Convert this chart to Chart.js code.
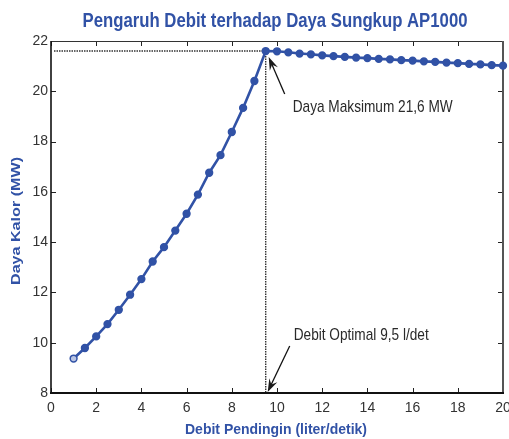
<!DOCTYPE html>
<html>
<head>
<meta charset="utf-8">
<script src="https://cdn.jsdelivr.net/npm/chart.js@4/dist/chart.umd.min.js"></script>
<style>
  html, body { margin: 0; padding: 0; background: #fff; }
  #wrap { width: 509px; height: 439px; }
</style>
</head>
<body>
<div id="wrap"><canvas id="daya-chart" width="509" height="439"></canvas></div>
<script>
// --- Data ---
const debit = [1, 1.5, 2, 2.5, 3, 3.5, 4, 4.5, 5, 5.5, 6, 6.5, 7, 7.5, 8, 8.5, 9, 9.5,
               10, 10.5, 11, 11.5, 12, 12.5, 13, 13.5, 14, 14.5, 15, 15.5, 16, 16.5, 17, 17.5, 18, 18.5, 19, 19.5, 20];
const daya = [9.37, 9.79, 10.25, 10.74, 11.31, 11.91, 12.53, 13.23, 13.80, 14.46, 15.13, 15.89, 16.76, 17.46, 18.38, 19.34, 20.41, 21.60,
              21.59, 21.55, 21.50, 21.47, 21.43, 21.40, 21.37, 21.34, 21.32, 21.29, 21.27, 21.24, 21.22, 21.19, 21.17, 21.14, 21.12, 21.09, 21.07, 21.04, 21.02];
const xTicks = [0, 2, 4, 6, 8, 10, 12, 14, 16, 18, 20];
const yTicks = [8, 10, 12, 14, 16, 18, 20, 22];

const debitOptimal = 9.5;
const dayaMaksimum = 21.6;

const titleText = 'Pengaruh Debit terhadap Daya Sungkup AP1000';
const xTitle = 'Debit Pendingin (liter/detik)';
const yTitle = 'Daya Kalor (MW)';
const noteDaya = 'Daya Maksimum 21,6 MW';
const noteDebit = 'Debit Optimal 9,5 l/det';

const BLUE = '#3152a6';
const NARROW = '"Liberation Sans Narrow", "Liberation Sans", Arial, sans-serif';
const SANS = '"Liberation Sans", Arial, sans-serif';

// draw text squeezed/stretched to a given width (figure was scaled unevenly)
function fitText(ctx, text, x, y, font, width, align) {
    ctx.save();
    ctx.font = font;
    const w = ctx.measureText(text).width;
    const k = width / w;
    ctx.translate(x, y);
    ctx.scale(k, 1);
    ctx.textAlign = align || 'left';
    ctx.fillText(text, 0, 0);
    ctx.restore();
}

function arrow(ctx, x1, y1, x2, y2) {
    const ang = Math.atan2(y2 - y1, x2 - x1);
    const len = 13, half = 4.4;
    ctx.beginPath();
    ctx.moveTo(x1, y1);
    ctx.lineTo(x2 - Math.cos(ang) * 6, y2 - Math.sin(ang) * 6);
    ctx.stroke();
    ctx.beginPath();
    ctx.moveTo(x2, y2);
    ctx.lineTo(x2 - len * Math.cos(ang) + half * Math.sin(ang), y2 - len * Math.sin(ang) - half * Math.cos(ang));
    ctx.lineTo(x2 - len * 0.65 * Math.cos(ang), y2 - len * 0.65 * Math.sin(ang));
    ctx.lineTo(x2 - len * Math.cos(ang) - half * Math.sin(ang), y2 - len * Math.sin(ang) + half * Math.cos(ang));
    ctx.closePath();
    ctx.fill();
}

// frame, inward ticks, guide lines
const framePlugin = {
    id: 'frame',
    beforeDatasetsDraw(chart) {
        const { ctx, chartArea: a, scales: { x, y } } = chart;
        const px = x.getPixelForValue(debitOptimal);
        const py = y.getPixelForValue(dayaMaksimum);
        ctx.save();
        // dotted guide lines
        ctx.strokeStyle = '#333';
        ctx.lineWidth = 1.4;
        ctx.setLineDash([1.5, 1]);
        ctx.beginPath();
        ctx.moveTo(a.left + 3, py);
        ctx.lineTo(px, py);
        ctx.moveTo(px, py);
        ctx.lineTo(px, a.bottom);
        ctx.stroke();
        ctx.setLineDash([]);

        // inward tick marks
        ctx.strokeStyle = '#222';
        ctx.lineWidth = 1;
        ctx.beginPath();
        xTicks.forEach(v => {
            const p = Math.round(x.getPixelForValue(v)) + 0.5;
            ctx.moveTo(p, a.bottom); ctx.lineTo(p, a.bottom - 5);
            ctx.moveTo(p, a.top); ctx.lineTo(p, a.top + 5);
        });
        yTicks.forEach(v => {
            const p = Math.round(y.getPixelForValue(v)) + 0.5;
            ctx.moveTo(a.left, p); ctx.lineTo(a.left + 5, p);
            ctx.moveTo(a.right, p); ctx.lineTo(a.right - 5, p);
        });
        ctx.stroke();

        // box
        ctx.lineWidth = 1;
        ctx.strokeStyle = '#333';
        ctx.beginPath();
        ctx.moveTo(a.left, a.top + 0.5); ctx.lineTo(a.right, a.top + 0.5);
        ctx.stroke();
        ctx.lineWidth = 2;
        ctx.strokeStyle = '#555';
        ctx.beginPath();
        ctx.moveTo(a.right, a.top); ctx.lineTo(a.right, a.bottom);
        ctx.stroke();
        ctx.lineWidth = 1.6;
        ctx.strokeStyle = '#111';
        ctx.beginPath();
        ctx.moveTo(a.left, a.top); ctx.lineTo(a.left, a.bottom);
        ctx.stroke();
        ctx.lineWidth = 2.2;
        ctx.beginPath();
        ctx.moveTo(a.left - 1, a.bottom); ctx.lineTo(a.right + 1, a.bottom);
        ctx.stroke();
        ctx.restore();
    },
    afterDraw(chart) {
        const { ctx, chartArea: a, scales: { x, y } } = chart;
        const px = x.getPixelForValue(debitOptimal);
        const py = y.getPixelForValue(dayaMaksimum);
        ctx.save();
        // titles
        ctx.fillStyle = BLUE;
        fitText(ctx, titleText, 275, 27, 'bold 20px ' + SANS, 385, 'center');
        fitText(ctx, xTitle, 276, 434, 'bold 15px ' + SANS, 182, 'center');
        ctx.save();
        ctx.translate(20, 221);
        ctx.rotate(-Math.PI / 2);
        fitText(ctx, yTitle, 0, 0, 'bold 13px ' + SANS, 128, 'center');
        ctx.restore();

        // annotations
        ctx.fillStyle = '#1a1a1a';
        ctx.strokeStyle = '#111';
        ctx.lineWidth = 1.3;
        arrow(ctx, px + 19, py + 43, px + 3, py + 6);
        arrow(ctx, px + 24, a.bottom - 47, px + 2, a.bottom - 1);
        ctx.fillStyle = '#2a2a2a';
        fitText(ctx, noteDaya, px + 27, py + 61, '17px ' + SANS, 160, 'left');
        fitText(ctx, noteDebit, px + 28, a.bottom - 53, '17px ' + SANS, 135, 'left');
        ctx.restore();
    }
};

const ctx = document.getElementById('daya-chart').getContext('2d');
const dayaChart = new Chart(ctx, {
    type: 'line',
    data: {
        datasets: [{
            label: 'Daya Kalor',
            data: debit.map((d, i) => ({ x: d, y: daya[i] })),
            borderColor: BLUE,
            backgroundColor: BLUE,
            pointBackgroundColor: debit.map((d, i) => i === 0 ? '#b9c4e3' : BLUE),
            pointBorderColor: BLUE,
            pointRadius: 3.4,
            pointBorderWidth: 1.5,
            borderWidth: 2.6,
            tension: 0,
            clip: false
        }]
    },
    options: {
        responsive: false,
        animation: false,
        events: [],
        layout: { padding: { left: 0, top: 41, right: 6, bottom: 0 } },
        plugins: { legend: { display: false }, tooltip: { enabled: false }, title: { display: false } },
        scales: {
            x: {
                type: 'linear', min: 0, max: 20,
                grid: { display: false, drawTicks: false },
                border: { display: false },
                afterBuildTicks: s => { s.ticks = xTicks.map(v => ({ value: v })); },
                afterFit: s => { s.height = 46; s.paddingLeft = 0; s.paddingRight = 0; },
                ticks: { padding: 7, color: '#333', maxRotation: 0, autoSkip: false,
                         font: { family: NARROW, size: 14 } }
            },
            y: {
                type: 'linear', min: 8, max: 22,
                grid: { display: false, drawTicks: false },
                border: { display: false },
                afterBuildTicks: s => { s.ticks = yTicks.map(v => ({ value: v })); },
                afterFit: s => { s.width = 51; s.paddingTop = 0; s.paddingBottom = 0; },
                ticks: { padding: 3, color: '#333', autoSkip: false,
                         font: { family: NARROW, size: 14 } }
            }
        }
    },
    plugins: [framePlugin]
});
</script>
</body>
</html>
